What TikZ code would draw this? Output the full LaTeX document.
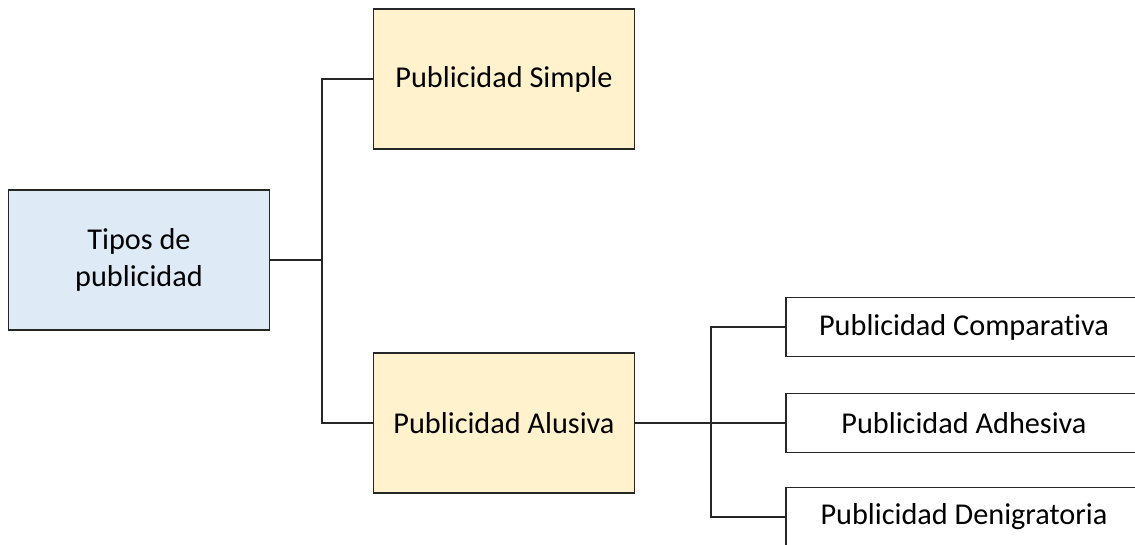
\documentclass[tikz,border=0pt]{standalone}
\usepackage{fontspec}
\setmainfont{Carlito}[Ligatures={NoCommon}]
\usepackage{xcolor}
\usetikzlibrary{positioning}
\definecolor{edge}{HTML}{262626}
\definecolor{rootbg}{HTML}{DEEBF7}
\definecolor{typebg}{HTML}{FFF2CC}

\begin{document}
\begin{tikzpicture}[
  x=0.75pt, y=-0.75pt,
  box/.style={rectangle, draw=edge, line width=1.1pt, minimum width=196pt,
    minimum height=105pt, align=center, font=\fontsize{22.7}{28}\selectfont,
    inner sep=0pt},
  root/.style={box, fill=rootbg},
  kind/.style={box, fill=typebg},
  leaf/.style={box, fill=white, minimum width=267pt, minimum height=44pt},
  link/.style={line width=1.1pt, color=edge}
]
\useasboundingbox (0,0) rectangle (1135,544);
\node[root] (tipos)   at (139,260) {Tipos de\\publicidad};
\node[kind] (simple)  at (504,79)  {Publicidad Simple};
\node[kind] (alusiva) at (504,423) {Publicidad Alusiva};
\node[leaf] (comp)  at (964,327) {Publicidad Comparativa};
\node[leaf] (adhes) at (964,423) {Publicidad Adhesiva};
\node[leaf] (denig) at (964,517) {Publicidad Denigratoria};
% junctions of the two brackets
\coordinate (jroot) at (322,260);
\coordinate (jalus) at (711,423);
\draw[link] (tipos.east) -- (jroot) |- (simple.west);
\draw[link] (jroot) |- (alusiva.west);
\draw[link] (alusiva.east) -- (jalus) |- (comp.west);
\draw[link] (jalus) -- (adhes.west);
\draw[link] (jalus) |- (denig.west);
\end{tikzpicture}
\end{document}
